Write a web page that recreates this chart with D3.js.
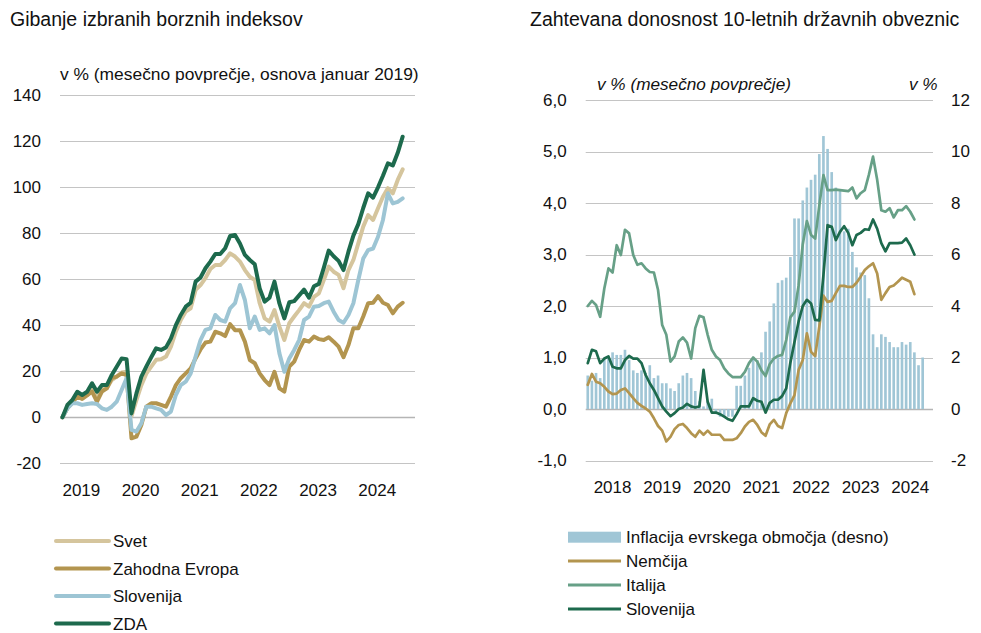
<!DOCTYPE html>
<html><head><meta charset="utf-8">
<script src="https://cdn.jsdelivr.net/npm/d3@7"></script>
<style>
body{margin:0;background:#fff;}
svg text{font-family:"Liberation Sans",Arial,sans-serif;fill:#111;}
</style></head><body>
<svg id="c" width="981" height="633"></svg>
<script>
// ---------- data ----------
const leftYears = ["2019","2020","2021","2022","2023","2024"];
const rightYears = ["2018","2019","2020","2021","2022","2023","2024"];
const leftYTicks = [-20,0,20,40,60,80,100,120,140];
const rightYTicksL = [-1,0,1,2,3,4,5,6];
const rightYTicksR = [-2,0,2,4,6,8,10,12];

// stock indices, % vs Jan 2019, monthly Jan 2019 - Oct 2024
const svet = [0,3.9,6.8,10.4,9.0,9.7,11.9,9.7,12.6,12.6,16.2,17.7,19.5,19.8,0.5,7.5,14,19,22,25,25.2,26.4,30.7,37.2,42.3,46,47.4,55.4,57.5,60.5,64.5,66.2,66.2,68.4,71.3,69.9,67.7,64,61.1,59.7,49.6,43,41.6,46.6,39.4,33.6,40.9,43.8,46.6,49.6,48.1,52.4,53.9,59.7,65.5,63.3,61.9,56.1,64,68.4,75.6,82.9,87.9,85.8,90.9,95.9,99.6,97.4,103.2,107.8];
const zahodnaEvropa = [0,4,6.5,9,8,9.5,11.2,6.8,11.2,12.6,17,17.7,19.1,18.4,-9.1,-8.4,-3.3,4.6,6.1,6.1,5.4,4.6,9,14,17,19.1,21.3,25.6,29.5,32.5,32.9,37.2,36.5,35.3,40.5,37.9,37.9,32.9,24.9,23.5,19.1,16.2,14,19.8,12.6,11.2,22,24.2,29.3,33.6,32.9,35.1,34,33.6,34.8,32.9,30.7,26.1,31.4,38.7,38.7,43.8,49.6,49.8,52.7,49.8,48.8,45.2,48.1,49.8];
const slovenijaIdx = [0,3.9,6.1,6.1,5.4,5.8,6.1,5.8,3.9,3.2,4.6,6.8,11.9,17,-5.5,-6.2,-2.6,4.6,4.6,3.9,3.2,1,2.5,9.7,14,15.5,19.1,26.4,33.6,38,38.7,44.5,42.3,41.6,47.4,49.6,57.5,51,38.7,43.8,38,38.7,36.5,40.1,27.8,19.8,25.6,29.3,33.6,42.3,43.8,48.1,48.4,49.6,50.3,45.9,42.3,41.1,44.5,49.6,59.7,69,72.7,73.4,78.5,85.8,97.4,93,93.7,95.2];
const zda = [0,5.4,7.5,11.1,9.7,11.1,14.8,11.1,14.0,14.0,18.4,22,25.6,25.3,1.7,10.4,17.7,22.0,26.1,30.0,29.3,30.4,34.3,40.1,44.5,48.1,49.8,59.0,60.8,64.8,67.7,71.0,71.0,73.5,78.8,79.3,75.6,70.6,68.4,66.5,56,50.3,52,59,49.5,43,50,50.5,53,55.5,52,57,58,65,72.5,70,68,64,72,79,84,91,97.4,95.5,100,105,110.4,109.5,115,122];

// bond yields (left axis, %) Jan 2018 - Aug 2024
const nemcija = [0.47,0.68,0.53,0.50,0.43,0.34,0.29,0.30,0.37,0.40,0.31,0.21,0.12,0.06,0.01,-0.05,-0.18,-0.33,-0.42,-0.63,-0.54,-0.39,-0.31,-0.29,-0.37,-0.47,-0.54,-0.42,-0.50,-0.42,-0.50,-0.50,-0.50,-0.60,-0.60,-0.60,-0.57,-0.47,-0.34,-0.25,-0.21,-0.31,-0.45,-0.52,-0.30,-0.21,-0.33,-0.37,-0.08,0.11,0.27,0.76,0.95,1.47,1.11,1.03,1.60,2.20,2.08,2.10,2.25,2.39,2.39,2.37,2.37,2.45,2.57,2.70,2.77,2.83,2.63,2.12,2.25,2.37,2.40,2.47,2.55,2.51,2.47,2.23];
const italija = [2.00,2.10,2.02,1.79,2.34,2.73,2.65,3.18,2.99,3.48,3.41,2.99,2.80,2.83,2.73,2.66,2.65,2.31,1.63,1.44,0.92,1.02,1.31,1.39,1.29,0.98,1.57,1.81,1.78,1.44,1.15,1.02,0.95,0.79,0.69,0.62,0.62,0.62,0.72,0.89,1.00,0.92,0.75,0.64,0.87,0.98,1.03,1.05,1.34,1.78,1.89,2.40,3.20,3.65,3.38,3.31,3.95,4.54,4.25,4.25,4.26,4.25,4.24,4.23,4.30,4.09,4.19,4.25,4.55,4.90,4.45,3.86,3.83,3.90,3.72,3.86,3.86,3.94,3.83,3.68];
const slovenijaYield = [0.89,1.15,1.12,0.89,0.98,1.02,0.82,0.79,0.79,0.95,1.03,0.98,0.98,0.89,0.66,0.50,0.37,0.21,0.05,-0.05,-0.14,-0.08,0.00,0.03,0.10,0.05,0.03,0.05,0.76,0.14,-0.07,-0.07,-0.10,-0.15,-0.20,-0.23,-0.10,0.05,0.05,0.05,0.21,0.16,0.14,-0.07,0.12,0.18,0.18,0.25,0.40,0.90,1.30,1.70,2.00,2.12,2.05,1.73,1.72,2.60,3.57,3.54,3.28,3.44,3.55,3.42,3.18,3.38,3.42,3.49,3.48,3.68,3.50,3.22,3.06,3.22,3.22,3.22,3.23,3.31,3.18,3.00];
// euro area inflation (right axis, %) Jan 2018 - Oct 2024
const inflacija = [1.3,1.1,1.4,1.2,2.0,2.0,2.2,2.1,2.1,2.3,1.9,1.5,
 1.4,1.5,1.4,1.7,1.2,1.3,1.0,1.0,0.8,0.7,1.0,1.3,
 1.4,1.2,0.7,0.3,0.1,0.3,0.4,-0.2,-0.3,-0.3,-0.3,-0.3,
 0.9,0.9,1.3,1.6,2.0,1.9,2.2,3.0,3.4,4.1,4.9,5.0,
 5.1,5.9,7.4,7.4,8.1,8.6,8.9,9.1,9.9,10.6,10.1,9.2,
 8.6,8.5,6.9,7.0,6.1,5.5,5.3,5.2,4.3,2.9,2.4,2.9,
 2.8,2.6,2.4,2.4,2.6,2.5,2.6,2.2,1.7,2.0];

const leftSeries = [
  {name:"Svet", values:svet, color:"#d5c59d"},
  {name:"Zahodna Evropa", values:zahodnaEvropa, color:"#b3954f"},
  {name:"Slovenija", values:slovenijaIdx, color:"#9dc5d4"},
  {name:"ZDA", values:zda, color:"#1d6a4d"}
];
const rightSeries = [
  {name:"Nemčija", values:nemcija, color:"#b3954f"},
  {name:"Italija", values:italija, color:"#67a087"},
  {name:"Slovenija", values:slovenijaYield, color:"#1d6a4d"}
];
const barColor = "#a0c6d6";

// ---------- helpers ----------
const months = ys => ys.flatMap(y => d3.range(1,13).map(m => y + "-" + String(m).padStart(2,"0")));
const monthsL = months(leftYears);
const monthsR = months(rightYears);
const loc = d3.formatLocale({decimal:",", thousands:".", grouping:[3], currency:["","€"], minus:"-"});
const f1 = loc.format(".1f"), f0 = loc.format("d");

const svg = d3.select("#c");
const GRID = "#c4c4c4";

// ---------- LEFT CHART ----------
const xL = d3.scaleBand().domain(monthsL).range([60,415]);
const yL = d3.scaleLinear().domain([-20,140]).range([463.3,95.3]);

svg.append("text").attr("x",10).attr("y",26).style("font-size","19.5px").text("Gibanje izbranih borznih indeksov");
svg.append("text").attr("x",60).attr("y",80).style("font-size","17.4px").text("v % (mesečno povprečje, osnova januar 2019)");

svg.append("g").selectAll("line").data(leftYTicks).join("line")
  .attr("x1",60).attr("x2",415).attr("y1",d=>Math.round(yL(d))+0.5).attr("y2",d=>Math.round(yL(d))+0.5)
  .attr("stroke",d=>d===0?"#b5b5b5":GRID).attr("stroke-width",d=>d===0?1.4:1);

const axL = svg.append("g").attr("transform","translate(60,0)")
  .call(d3.axisLeft(yL).tickValues(leftYTicks).tickFormat(f0).tickSize(0).tickPadding(19));
axL.select(".domain").remove();
axL.selectAll("text").style("font-size","17px").style("font-family","Liberation Sans, Arial, sans-serif").attr("fill","#111");

const axLB = svg.append("g").attr("transform","translate(0,478)")
  .call(d3.axisBottom(xL).tickValues(leftYears.map(y=>y+"-01")).tickFormat(d=>d.slice(0,4)).tickSize(0).tickPadding(0));
axLB.select(".domain").remove();
axLB.selectAll("text").attr("text-anchor","start").attr("dy","0").attr("y",18).style("font-size","17px").style("font-family","Liberation Sans, Arial, sans-serif").attr("fill","#111");

const lineL = d3.line().x((d,i)=>xL(monthsL[i])+xL.bandwidth()/2).y(d=>yL(d));
svg.append("g").selectAll("path").data(leftSeries).join("path")
  .attr("d",s=>lineL(s.values)).attr("fill","none").attr("stroke",s=>s.color)
  .attr("stroke-width",4).attr("stroke-linejoin","round").attr("stroke-linecap","round");

// legend left
const lgL = svg.append("g").selectAll("g").data(leftSeries).join("g")
  .attr("transform",(d,i)=>`translate(0,${541+i*27.5})`);
lgL.append("line").attr("x1",56).attr("x2",109).attr("stroke",d=>d.color).attr("stroke-width",4).attr("stroke-linecap","round");
lgL.append("text").attr("x",113).attr("y",6).style("font-size","17px").text(d=>d.name);

// ---------- RIGHT CHART ----------
const xR = d3.scaleBand().domain(monthsR).range([585.7,933]);
const yR = d3.scaleLinear().domain([-1,6]).range([460.5,100]);
const yR2 = d3.scaleLinear().domain([-2,12]).range([460.5,100]);

svg.append("text").attr("x",530).attr("y",26).style("font-size","19.5px").text("Zahtevana donosnost 10-letnih državnih obveznic");
svg.append("text").attr("x",597).attr("y",90).style("font-size","17.2px").style("font-style","italic").text("v % (mesečno povprečje)");
svg.append("text").attr("x",909).attr("y",90).style("font-size","17.2px").style("font-style","italic").text("v %");

svg.append("g").selectAll("line").data(rightYTicksL).join("line")
  .attr("x1",585.7).attr("x2",933).attr("y1",d=>Math.round(yR(d))+0.5).attr("y2",d=>Math.round(yR(d))+0.5)
  .attr("stroke",d=>d===0?"#b5b5b5":GRID).attr("stroke-width",d=>d===0?1.4:1);

const axRL = svg.append("g").attr("transform","translate(585.7,0)")
  .call(d3.axisLeft(yR).tickValues(rightYTicksL).tickFormat(f1).tickSize(0).tickPadding(19));
axRL.select(".domain").remove();
axRL.selectAll("text").style("font-size","17px").style("font-family","Liberation Sans, Arial, sans-serif").attr("fill","#111");

const axRR = svg.append("g").attr("transform","translate(933,0)")
  .call(d3.axisRight(yR2).tickValues(rightYTicksR).tickFormat(f0).tickSize(0).tickPadding(18));
axRR.select(".domain").remove();
axRR.selectAll("text").style("font-size","17px").style("font-family","Liberation Sans, Arial, sans-serif").attr("fill","#111");

const axRB = svg.append("g").attr("transform","translate(0,475)")
  .call(d3.axisBottom(xR).tickValues(rightYears.map(y=>y+"-07")).tickFormat(d=>d.slice(0,4)).tickSize(0).tickPadding(0));
axRB.select(".domain").remove();
axRB.selectAll("text").attr("text-anchor","middle").attr("dy","0").attr("y",18).style("font-size","17px").style("font-family","Liberation Sans, Arial, sans-serif").attr("fill","#111");

const bw = xR.bandwidth();
svg.append("g").selectAll("rect").data(inflacija).join("rect")
  .attr("x",(d,i)=>xR(monthsR[i])+bw*0.18).attr("width",bw*0.64)
  .attr("y",d=>Math.min(yR2(d),yR2(0))).attr("height",d=>Math.abs(yR2(d)-yR2(0)))
  .attr("fill",barColor);

const lineR = d3.line().x((d,i)=>xR(monthsR[i])+bw/2).y(d=>yR(d));
svg.append("g").selectAll("path").data(rightSeries).join("path")
  .attr("d",s=>lineR(s.values)).attr("fill","none").attr("stroke",s=>s.color)
  .attr("stroke-width",2.7).attr("stroke-linejoin","round").attr("stroke-linecap","round");

// legend right
svg.append("rect").attr("x",568).attr("y",531.7).attr("width",53).attr("height",11).attr("fill",barColor);
svg.append("text").attr("x",626).attr("y",543).style("font-size","17px").text("Inflacija evrskega območja (desno)");
const lgR = svg.append("g").selectAll("g").data(rightSeries).join("g")
  .attr("transform",(d,i)=>`translate(0,${561+i*24})`);
lgR.append("line").attr("x1",568).attr("x2",621).attr("stroke",d=>d.color).attr("stroke-width",3);
lgR.append("text").attr("x",626).attr("y",6).style("font-size","17px").text(d=>d.name);
</script>
</body></html>
